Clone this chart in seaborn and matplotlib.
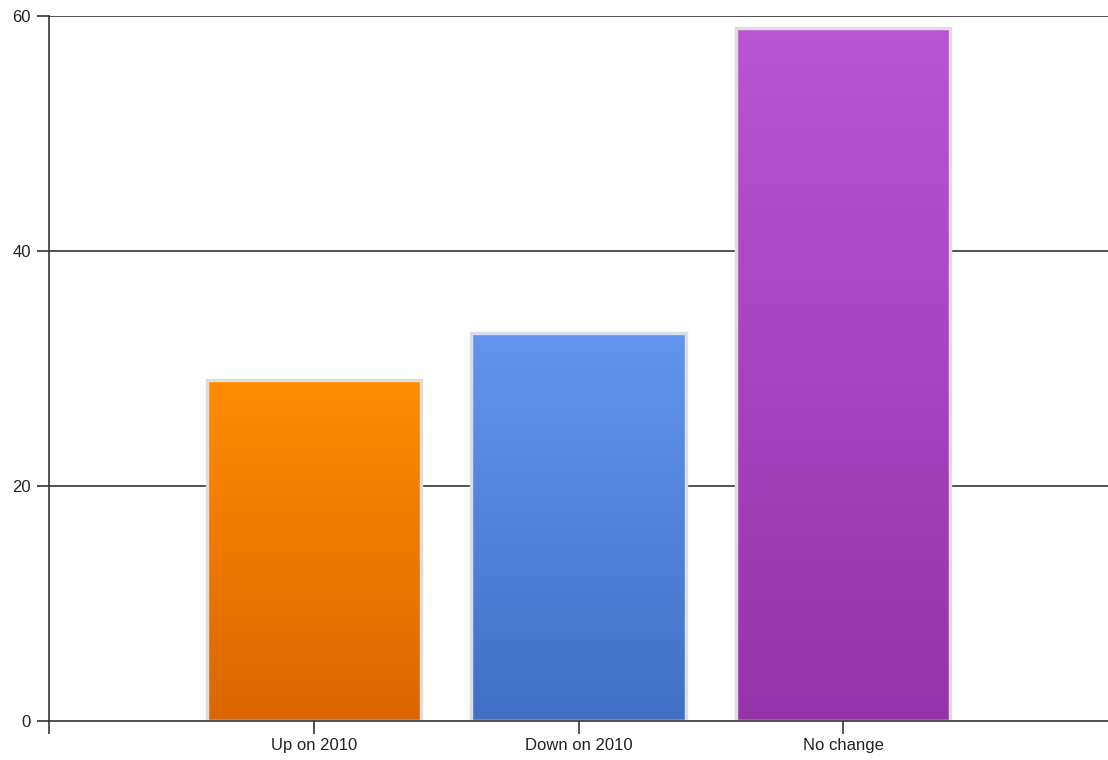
import numpy as np
import pandas as pd
import matplotlib
matplotlib.use("Agg")
import matplotlib.pyplot as plt
import seaborn as sns
from matplotlib.colors import LinearSegmentedColormap
from matplotlib.patches import Rectangle

# Données du graphique
categories = ["Up on 2010", "Down on 2010", "No change"]
values = [29, 33, 59]
top_colors = ["#ff8c00", "#6495ed", "#ba55d3"]
bottom_colors = ["#db6600", "#4070c6", "#9632ab"]

df = pd.DataFrame({"categorie": categories, "valeur": values})

sns.set_theme(style="white")
plt.rcParams["font.family"] = ["Liberation Sans", "DejaVu Sans"]

fig = plt.figure(figsize=(11.08, 7.6), dpi=100)
ax = fig.add_axes([49 / 1108, 39 / 760, 1 - 49 / 1108, 705 / 760])

sns.barplot(x="categorie", y="valeur", data=df, ax=ax, width=0.81,
            color="#cccccc", linewidth=0, zorder=2)

# Dégradé vertical dans chaque barre + bordure gris clair par-dessus
for patch, c_top, c_bot in list(zip(ax.patches, top_colors, bottom_colors)):
    x0, y0 = patch.get_x(), patch.get_y()
    w, h = patch.get_width(), patch.get_height()
    cmap = LinearSegmentedColormap.from_list("g", [c_bot, c_top])
    grad = np.linspace(0, 1, 256).reshape(-1, 1)
    im = ax.imshow(grad, cmap=cmap, origin="lower", aspect="auto",
                   extent=[x0, x0 + w, y0, y0 + h], zorder=2.5)
    im.set_clip_path(patch)
    ax.add_patch(Rectangle((x0, y0), w, h, facecolor="none",
                           edgecolor="#dddddd", linewidth=2.5, zorder=3))

ax.set_xlim(-1, 3)
ax.set_ylim(0, 60)
ax.set_yticks([0, 20, 40, 60])
ax.set_xticks([-1, 0, 1, 2])
ax.set_xticklabels([""] + categories)
ax.set_xlabel("")
ax.set_ylabel("")

for y in [20, 40, 60]:
    ax.axhline(y, color="#333333", linewidth=1.2, zorder=1)

for side in ["top", "right"]:
    ax.spines[side].set_visible(False)
for side in ["left", "bottom"]:
    ax.spines[side].set_color("#333333")
    ax.spines[side].set_linewidth(1.2)
ax.spines["bottom"].set_zorder(4)

ax.tick_params(axis="both", which="both", length=9, width=1.2, color="#333333",
               labelsize=12, labelcolor="#222222", direction="out",
               bottom=True, left=True)
ax.tick_params(axis="y", pad=4)
ax.tick_params(axis="x", pad=3)

fig.savefig("out.png", dpi=100)
